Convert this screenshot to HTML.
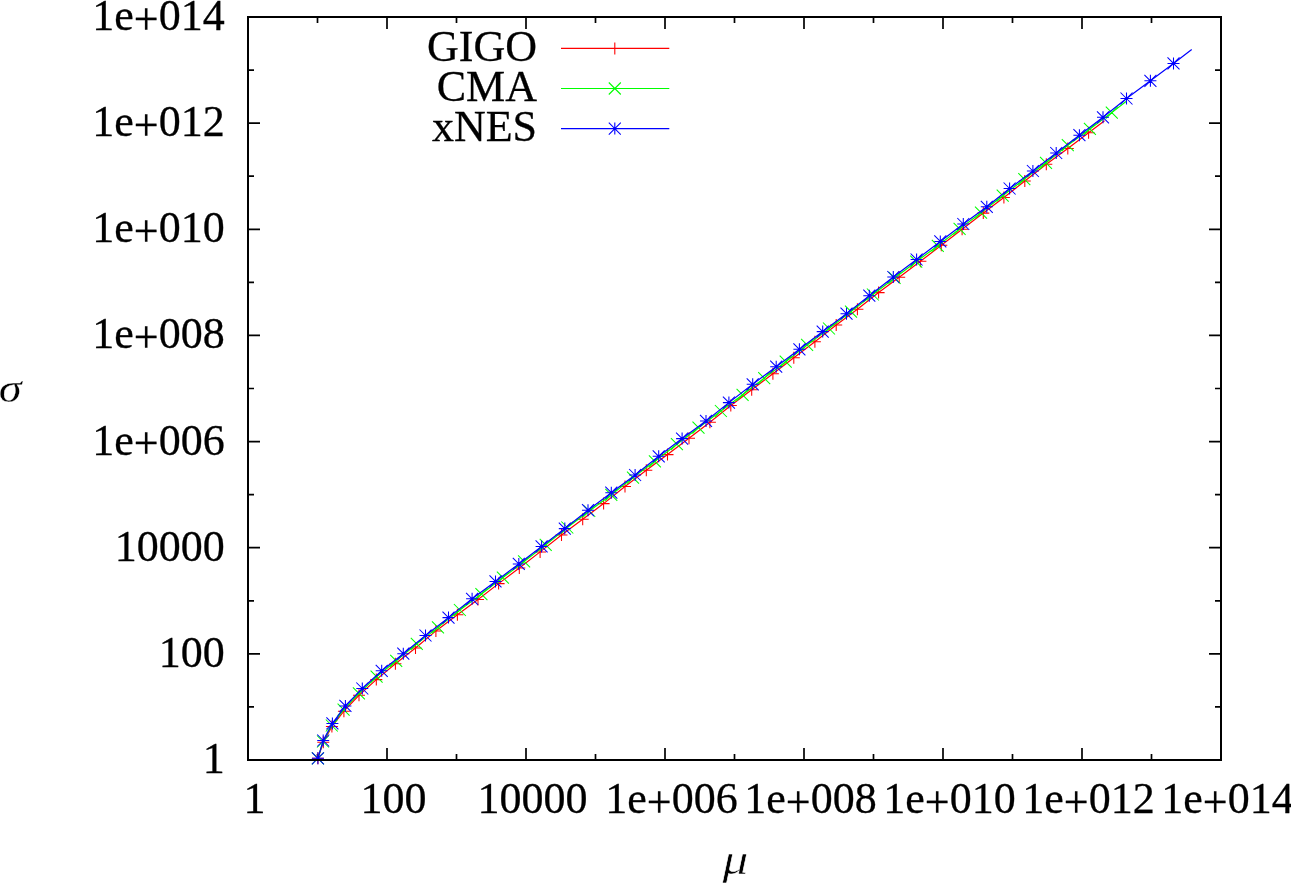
<!DOCTYPE html>
<html><head><meta charset="utf-8"><title>GIGO CMA xNES</title>
<style>
html,body{margin:0;padding:0;background:#fff}
body{width:1291px;height:883px;overflow:hidden}
svg{display:block}
.t{font-family:"Liberation Serif","DejaVu Serif",serif;font-size:44px;fill:#000;stroke:#000;stroke-width:0.3px}
.p{stroke:#000;stroke-width:0.7px}
.m{font-family:"Liberation Serif","DejaVu Serif",serif;font-style:italic;fill:#000;stroke:#fff;stroke-width:0.8px}
</style></head><body>
<svg width="1291" height="883" viewBox="0 0 1291 883">
<rect width="1291" height="883" fill="#fff"/>
<path d="M317.5 760.0V754.0M317.5 17.0V23.0M248.0 706.9H254.0M1221.0 706.9H1215.0M387.0 760.0V748.0M387.0 17.0V29.0M248.0 653.9H260.0M1221.0 653.9H1209.0M456.5 760.0V754.0M456.5 17.0V23.0M248.0 600.8H254.0M1221.0 600.8H1215.0M526.0 760.0V748.0M526.0 17.0V29.0M248.0 547.7H260.0M1221.0 547.7H1209.0M595.5 760.0V754.0M595.5 17.0V23.0M248.0 494.6H254.0M1221.0 494.6H1215.0M665.0 760.0V748.0M665.0 17.0V29.0M248.0 441.6H260.0M1221.0 441.6H1209.0M734.5 760.0V754.0M734.5 17.0V23.0M248.0 388.5H254.0M1221.0 388.5H1215.0M804.0 760.0V748.0M804.0 17.0V29.0M248.0 335.4H260.0M1221.0 335.4H1209.0M873.5 760.0V754.0M873.5 17.0V23.0M248.0 282.4H254.0M1221.0 282.4H1215.0M943.0 760.0V748.0M943.0 17.0V29.0M248.0 229.3H260.0M1221.0 229.3H1209.0M1012.5 760.0V754.0M1012.5 17.0V23.0M248.0 176.2H254.0M1221.0 176.2H1215.0M1082.0 760.0V748.0M1082.0 17.0V29.0M248.0 123.1H260.0M1221.0 123.1H1209.0M1151.5 760.0V754.0M1151.5 17.0V23.0M248.0 70.1H254.0M1221.0 70.1H1215.0" stroke="#000" stroke-width="1.7" fill="none"/>
<g stroke="#ff0000" stroke-width="1.2" fill="none" stroke-linecap="butt">
<path d="M317.9 758.3 L323.3 742.3 L331.9 726.5 L343.9 711.2 L359.0 695.3 L376.3 679.6 L395.4 663.7 L415.5 648.0 L435.9 630.9 L457.4 614.7 L478.0 599.5 L498.6 583.6 L519.3 568.0 L540.1 551.9 L561.5 535.0 L582.7 519.2 L603.6 503.6 L625.0 486.5 L646.3 470.3 L667.5 454.6 L689.0 438.2 L709.9 422.2 L730.8 405.5 L751.7 389.8 L772.9 373.7 L793.8 357.7 L814.9 341.8 L836.2 325.0 L857.4 309.3 L878.6 292.6 L899.2 277.3 L920.4 261.3 L941.3 245.3 L962.1 229.3 L983.3 213.1 L1003.9 197.5 L1024.8 181.0 L1046.3 164.2 L1067.8 148.4 L1088.6 132.8 L1104.5 120.8"/>
<path stroke-width="1.05" d="M311.9 758.3H323.9M317.9 752.3V764.3M317.3 742.3H329.3M323.3 736.3V748.3M325.9 726.5H337.9M331.9 720.5V732.5M337.9 711.2H349.9M343.9 705.2V717.2M353.0 695.3H365.0M359.0 689.3V701.3M370.3 679.6H382.3M376.3 673.6V685.6M389.4 663.7H401.4M395.4 657.7V669.7M409.5 648.0H421.5M415.5 642.0V654.0M429.9 630.9H441.9M435.9 624.9V636.9M451.4 614.7H463.4M457.4 608.7V620.7M472.0 599.5H484.0M478.0 593.5V605.5M492.6 583.6H504.6M498.6 577.6V589.6M513.3 568.0H525.3M519.3 562.0V574.0M534.1 551.9H546.1M540.1 545.9V557.9M555.5 535.0H567.5M561.5 529.0V541.0M576.7 519.2H588.7M582.7 513.2V525.2M597.6 503.6H609.6M603.6 497.6V509.6M619.0 486.5H631.0M625.0 480.5V492.5M640.3 470.3H652.3M646.3 464.3V476.3M661.5 454.6H673.5M667.5 448.6V460.6M683.0 438.2H695.0M689.0 432.2V444.2M703.9 422.2H715.9M709.9 416.2V428.2M724.8 405.5H736.8M730.8 399.5V411.5M745.7 389.8H757.7M751.7 383.8V395.8M766.9 373.7H778.9M772.9 367.7V379.7M787.8 357.7H799.8M793.8 351.7V363.7M808.9 341.8H820.9M814.9 335.8V347.8M830.2 325.0H842.2M836.2 319.0V331.0M851.4 309.3H863.4M857.4 303.3V315.3M872.6 292.6H884.6M878.6 286.6V298.6M893.2 277.3H905.2M899.2 271.3V283.3M914.4 261.3H926.4M920.4 255.3V267.3M935.3 245.3H947.3M941.3 239.3V251.3M956.1 229.3H968.1M962.1 223.3V235.3M977.3 213.1H989.3M983.3 207.1V219.1M997.9 197.5H1009.9M1003.9 191.5V203.5M1018.8 181.0H1030.8M1024.8 175.0V187.0M1040.3 164.2H1052.3M1046.3 158.2V170.2M1061.8 148.4H1073.8M1067.8 142.4V154.4M1082.6 132.8H1094.6M1088.6 126.8V138.8"/>
</g>
<g stroke="#00ff00" stroke-width="1.2" fill="none" stroke-linecap="butt">
<path d="M317.9 758.3 L323.0 741.5 L331.8 725.5 L343.6 709.6 L358.9 693.4 L376.6 676.7 L396.2 660.8 L416.8 643.9 L438.0 627.4 L459.9 610.0 L481.4 594.1 L502.9 577.6 L524.1 561.4 L545.7 544.9 L567.3 527.5 L589.3 511.0 L611.3 494.8 L633.0 477.6 L654.9 461.3 L676.9 444.2 L698.5 427.7 L720.9 411.0 L742.6 394.8 L764.2 378.1 L785.7 361.7 L807.1 344.9 L829.0 328.5 L851.0 311.6 L872.9 294.5 L894.6 277.9 L916.2 261.7 L937.8 245.8 L959.6 228.9 L981.0 212.7 L1002.7 195.7 L1024.3 179.1 L1046.0 162.8 L1067.8 145.2 L1089.9 128.9 L1111.8 112.6 L1126.0 101.5"/>
<path stroke-width="1.05" d="M311.9 752.3L323.9 764.3M311.9 764.3L323.9 752.3M317.0 735.5L329.0 747.5M317.0 747.5L329.0 735.5M325.8 719.5L337.8 731.5M325.8 731.5L337.8 719.5M337.6 703.6L349.6 715.6M337.6 715.6L349.6 703.6M352.9 687.4L364.9 699.4M352.9 699.4L364.9 687.4M370.6 670.7L382.6 682.7M370.6 682.7L382.6 670.7M390.2 654.8L402.2 666.8M390.2 666.8L402.2 654.8M410.8 637.9L422.8 649.9M410.8 649.9L422.8 637.9M432.0 621.4L444.0 633.4M432.0 633.4L444.0 621.4M453.9 604.0L465.9 616.0M453.9 616.0L465.9 604.0M475.4 588.1L487.4 600.1M475.4 600.1L487.4 588.1M496.9 571.6L508.9 583.6M496.9 583.6L508.9 571.6M518.1 555.4L530.1 567.4M518.1 567.4L530.1 555.4M539.7 538.9L551.7 550.9M539.7 550.9L551.7 538.9M561.3 521.5L573.3 533.5M561.3 533.5L573.3 521.5M583.3 505.0L595.3 517.0M583.3 517.0L595.3 505.0M605.3 488.8L617.3 500.8M605.3 500.8L617.3 488.8M627.0 471.6L639.0 483.6M627.0 483.6L639.0 471.6M648.9 455.3L660.9 467.3M648.9 467.3L660.9 455.3M670.9 438.2L682.9 450.2M670.9 450.2L682.9 438.2M692.5 421.7L704.5 433.7M692.5 433.7L704.5 421.7M714.9 405.0L726.9 417.0M714.9 417.0L726.9 405.0M736.6 388.8L748.6 400.8M736.6 400.8L748.6 388.8M758.2 372.1L770.2 384.1M758.2 384.1L770.2 372.1M779.7 355.7L791.7 367.7M779.7 367.7L791.7 355.7M801.1 338.9L813.1 350.9M801.1 350.9L813.1 338.9M823.0 322.5L835.0 334.5M823.0 334.5L835.0 322.5M845.0 305.6L857.0 317.6M845.0 317.6L857.0 305.6M866.9 288.5L878.9 300.5M866.9 300.5L878.9 288.5M888.6 271.9L900.6 283.9M888.6 283.9L900.6 271.9M910.2 255.7L922.2 267.7M910.2 267.7L922.2 255.7M931.8 239.8L943.8 251.8M931.8 251.8L943.8 239.8M953.6 222.9L965.6 234.9M953.6 234.9L965.6 222.9M975.0 206.7L987.0 218.7M975.0 218.7L987.0 206.7M996.7 189.7L1008.7 201.7M996.7 201.7L1008.7 189.7M1018.3 173.1L1030.3 185.1M1018.3 185.1L1030.3 173.1M1040.0 156.8L1052.0 168.8M1040.0 168.8L1052.0 156.8M1061.8 139.2L1073.8 151.2M1061.8 151.2L1073.8 139.2M1083.9 122.9L1095.9 134.9M1083.9 134.9L1095.9 122.9M1105.8 106.6L1117.8 118.6M1105.8 118.6L1117.8 106.6"/>
</g>
<g stroke="#0000ff" stroke-width="1.2" fill="none" stroke-linecap="butt">
<path d="M317.9 758.3 L323.2 740.5 L332.4 723.4 L345.4 705.9 L362.3 688.5 L381.7 670.8 L403.3 653.7 L425.5 635.5 L448.5 617.6 L472.1 598.8 L495.5 581.4 L518.8 563.9 L541.6 546.4 L564.8 528.6 L588.0 510.2 L611.3 492.7 L635.1 475.0 L658.7 456.3 L682.1 438.6 L706.0 420.9 L728.9 402.6 L752.7 384.3 L776.2 366.7 L799.4 349.3 L822.7 331.6 L846.5 313.7 L869.3 295.7 L893.3 277.0 L916.6 259.5 L940.3 241.4 L963.3 224.0 L986.8 206.8 L1009.6 188.5 L1032.9 171.0 L1056.2 153.0 L1079.4 135.2 L1103.0 117.3 L1126.5 98.5 L1150.4 80.8 L1173.5 63.4 L1191.7 49.5"/>
<path stroke-width="1.05" d="M311.9 758.3H323.9M317.9 752.3V764.3M311.9 752.3L323.9 764.3M311.9 764.3L323.9 752.3M317.2 740.5H329.2M323.2 734.5V746.5M317.2 734.5L329.2 746.5M317.2 746.5L329.2 734.5M326.4 723.4H338.4M332.4 717.4V729.4M326.4 717.4L338.4 729.4M326.4 729.4L338.4 717.4M339.4 705.9H351.4M345.4 699.9V711.9M339.4 699.9L351.4 711.9M339.4 711.9L351.4 699.9M356.3 688.5H368.3M362.3 682.5V694.5M356.3 682.5L368.3 694.5M356.3 694.5L368.3 682.5M375.7 670.8H387.7M381.7 664.8V676.8M375.7 664.8L387.7 676.8M375.7 676.8L387.7 664.8M397.3 653.7H409.3M403.3 647.7V659.7M397.3 647.7L409.3 659.7M397.3 659.7L409.3 647.7M419.5 635.5H431.5M425.5 629.5V641.5M419.5 629.5L431.5 641.5M419.5 641.5L431.5 629.5M442.5 617.6H454.5M448.5 611.6V623.6M442.5 611.6L454.5 623.6M442.5 623.6L454.5 611.6M466.1 598.8H478.1M472.1 592.8V604.8M466.1 592.8L478.1 604.8M466.1 604.8L478.1 592.8M489.5 581.4H501.5M495.5 575.4V587.4M489.5 575.4L501.5 587.4M489.5 587.4L501.5 575.4M512.8 563.9H524.8M518.8 557.9V569.9M512.8 557.9L524.8 569.9M512.8 569.9L524.8 557.9M535.6 546.4H547.6M541.6 540.4V552.4M535.6 540.4L547.6 552.4M535.6 552.4L547.6 540.4M558.8 528.6H570.8M564.8 522.6V534.6M558.8 522.6L570.8 534.6M558.8 534.6L570.8 522.6M582.0 510.2H594.0M588.0 504.2V516.2M582.0 504.2L594.0 516.2M582.0 516.2L594.0 504.2M605.3 492.7H617.3M611.3 486.7V498.7M605.3 486.7L617.3 498.7M605.3 498.7L617.3 486.7M629.1 475.0H641.1M635.1 469.0V481.0M629.1 469.0L641.1 481.0M629.1 481.0L641.1 469.0M652.7 456.3H664.7M658.7 450.3V462.3M652.7 450.3L664.7 462.3M652.7 462.3L664.7 450.3M676.1 438.6H688.1M682.1 432.6V444.6M676.1 432.6L688.1 444.6M676.1 444.6L688.1 432.6M700.0 420.9H712.0M706.0 414.9V426.9M700.0 414.9L712.0 426.9M700.0 426.9L712.0 414.9M722.9 402.6H734.9M728.9 396.6V408.6M722.9 396.6L734.9 408.6M722.9 408.6L734.9 396.6M746.7 384.3H758.7M752.7 378.3V390.3M746.7 378.3L758.7 390.3M746.7 390.3L758.7 378.3M770.2 366.7H782.2M776.2 360.7V372.7M770.2 360.7L782.2 372.7M770.2 372.7L782.2 360.7M793.4 349.3H805.4M799.4 343.3V355.3M793.4 343.3L805.4 355.3M793.4 355.3L805.4 343.3M816.7 331.6H828.7M822.7 325.6V337.6M816.7 325.6L828.7 337.6M816.7 337.6L828.7 325.6M840.5 313.7H852.5M846.5 307.7V319.7M840.5 307.7L852.5 319.7M840.5 319.7L852.5 307.7M863.3 295.7H875.3M869.3 289.7V301.7M863.3 289.7L875.3 301.7M863.3 301.7L875.3 289.7M887.3 277.0H899.3M893.3 271.0V283.0M887.3 271.0L899.3 283.0M887.3 283.0L899.3 271.0M910.6 259.5H922.6M916.6 253.5V265.5M910.6 253.5L922.6 265.5M910.6 265.5L922.6 253.5M934.3 241.4H946.3M940.3 235.4V247.4M934.3 235.4L946.3 247.4M934.3 247.4L946.3 235.4M957.3 224.0H969.3M963.3 218.0V230.0M957.3 218.0L969.3 230.0M957.3 230.0L969.3 218.0M980.8 206.8H992.8M986.8 200.8V212.8M980.8 200.8L992.8 212.8M980.8 212.8L992.8 200.8M1003.6 188.5H1015.6M1009.6 182.5V194.5M1003.6 182.5L1015.6 194.5M1003.6 194.5L1015.6 182.5M1026.9 171.0H1038.9M1032.9 165.0V177.0M1026.9 165.0L1038.9 177.0M1026.9 177.0L1038.9 165.0M1050.2 153.0H1062.2M1056.2 147.0V159.0M1050.2 147.0L1062.2 159.0M1050.2 159.0L1062.2 147.0M1073.4 135.2H1085.4M1079.4 129.2V141.2M1073.4 129.2L1085.4 141.2M1073.4 141.2L1085.4 129.2M1097.0 117.3H1109.0M1103.0 111.3V123.3M1097.0 111.3L1109.0 123.3M1097.0 123.3L1109.0 111.3M1120.5 98.5H1132.5M1126.5 92.5V104.5M1120.5 92.5L1132.5 104.5M1120.5 104.5L1132.5 92.5M1144.4 80.8H1156.4M1150.4 74.8V86.8M1144.4 74.8L1156.4 86.8M1144.4 86.8L1156.4 74.8M1167.5 63.4H1179.5M1173.5 57.4V69.4M1167.5 57.4L1179.5 69.4M1167.5 69.4L1179.5 57.4"/>
</g>
<text class="t" x="537" y="60.7" text-anchor="end">GIGO</text>
<path d="M561.0 48.4H669.3M608.8 48.4H620.8M614.8 42.4V54.4" stroke="#ff0000" stroke-width="1.1" fill="none"/>
<text class="t" x="537" y="100.8" text-anchor="end">CMA</text>
<path d="M561.0 88.5H669.3M608.8 82.5L620.8 94.5M608.8 94.5L620.8 82.5" stroke="#00ff00" stroke-width="1.1" fill="none"/>
<text class="t" x="537" y="140.9" text-anchor="end">xNES</text>
<path d="M561.0 128.6H669.3M608.8 128.6H620.8M614.8 122.6V134.6M608.8 122.6L620.8 134.6M608.8 134.6L620.8 122.6" stroke="#0000ff" stroke-width="1.1" fill="none"/>
<rect x="248" y="17" width="973" height="743" stroke="#000" stroke-width="2" fill="none"/>
<text class="t" x="224.7" y="773.0" text-anchor="end">1</text>
<text class="t" x="254.5" y="813.0" text-anchor="middle">1</text>
<text class="t" x="224.7" y="666.9" text-anchor="end">100</text>
<text class="t" x="393.5" y="813.0" text-anchor="middle">100</text>
<text class="t" x="224.7" y="560.7" text-anchor="end">10000</text>
<text class="t" x="532.5" y="813.0" text-anchor="middle">10000</text>
<text class="t" x="224.7" y="454.6" text-anchor="end" dy="0 0 3.6 -3.6">1e+006</text>
<text class="t" x="671.5" y="813.0" text-anchor="middle" dy="0 0 3.6 -3.6">1e+006</text>
<text class="t" x="224.7" y="348.4" text-anchor="end" dy="0 0 3.6 -3.6">1e+008</text>
<text class="t" x="810.5" y="813.0" text-anchor="middle" dy="0 0 3.6 -3.6">1e+008</text>
<text class="t" x="224.7" y="242.3" text-anchor="end" dy="0 0 3.6 -3.6">1e+010</text>
<text class="t" x="949.5" y="813.0" text-anchor="middle" dy="0 0 3.6 -3.6">1e+010</text>
<text class="t" x="224.7" y="136.1" text-anchor="end" dy="0 0 3.6 -3.6">1e+012</text>
<text class="t" x="1088.5" y="813.0" text-anchor="middle" dy="0 0 3.6 -3.6">1e+012</text>
<text class="t" x="224.7" y="30.0" text-anchor="end" dy="0 0 3.6 -3.6">1e+014</text>
<text class="t" x="1227.5" y="813.0" text-anchor="middle" dy="0 0 3.6 -3.6">1e+014</text>
<text class="m" transform="translate(-1.2 401.9) scale(1.19 1)" font-size="39" style="stroke-width:0.25px">σ</text>
<text class="m" transform="translate(722.5 873.7) scale(1.17 1)" font-size="44" style="stroke-width:0.55px">μ</text>
</svg>
</body></html>
